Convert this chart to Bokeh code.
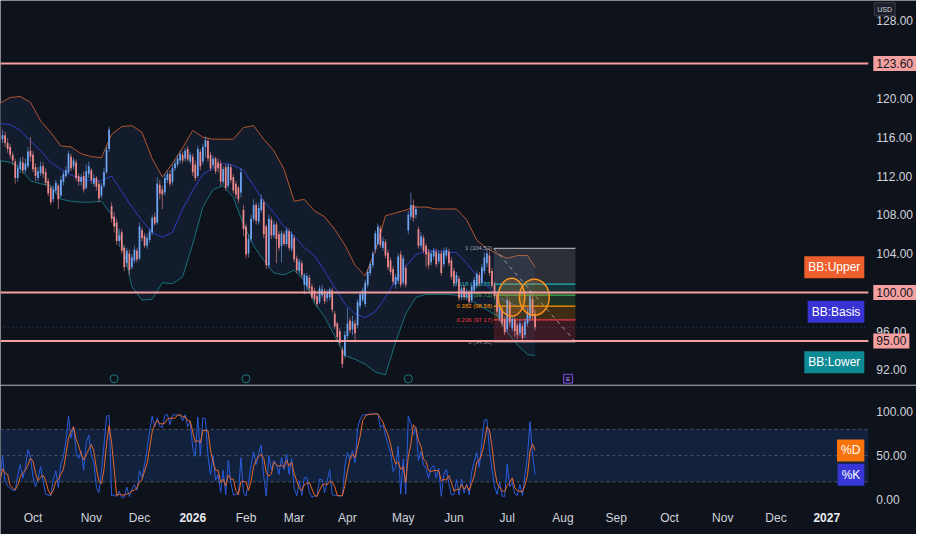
from bokeh.plotting import figure
from bokeh.models import ColumnDataSource, Range1d, Label
from bokeh.layouts import column
from bokeh.embed import file_html
from bokeh.resources import INLINE
from bokeh.core.properties import value

# ---------------- data (daily candles, index = trading day) ----------------
opens = [
    116.5, 115.8, 116.2, 115.4, 115.0, 114.2, 113.5, 111.8, 112.7, 113.4,
    112.6, 113.0, 114.6, 114.2, 112.9, 111.8, 112.3, 113.0, 112.4, 111.5,
    110.8, 109.6, 110.5, 111.0, 110.0, 111.4, 112.0, 112.4, 114.0, 113.0,
    113.4, 112.0, 111.4, 112.0, 110.8, 112.2, 112.6, 111.2, 111.8, 111.2,
    110.0, 111.0, 112.4, 114.8, 108.9, 107.8, 107.2, 105.3, 106.2, 104.6,
    103.0, 104.0, 102.6, 103.3, 104.3, 103.5, 106.4, 105.8, 104.8, 105.4,
    106.2, 107.8, 107.2, 111.1, 110.6, 110.3, 111.6, 112.2, 111.4, 112.8,
    113.2, 113.6, 114.2, 113.8, 114.8, 113.5, 114.0, 113.2, 112.0, 114.5,
    113.5, 115.0, 115.6, 114.2, 113.1, 113.8, 113.4, 113.3, 111.4, 112.9,
    111.0, 112.9, 111.9, 111.2, 110.8, 110.3, 108.5, 106.8, 104.0, 105.5,
    107.6, 109.0, 107.3, 108.5, 109.3, 106.8, 102.8, 107.5, 105.9, 107.0,
    106.0, 104.8, 106.0, 105.0, 106.3, 104.5, 105.6, 103.5, 102.2, 103.0,
    100.8, 100.6, 101.5, 100.6, 100.2, 99.6, 99.0, 99.7, 100.1, 99.4,
    99.5, 100.2, 97.8, 96.8, 96.0, 94.1, 93.5, 95.5, 97.1, 96.2,
    96.8, 96.6, 98.6, 99.2, 98.8, 100.8, 102.0, 102.8, 104.4, 105.0,
    106.6, 104.6, 105.2, 104.1, 103.3, 102.4, 100.8, 101.2, 103.9, 101.0,
    102.5, 106.4, 107.8, 109.0, 108.0, 106.5, 104.8, 105.6, 104.8, 104.2,
    103.1, 103.7, 104.2, 103.2, 104.0, 102.9, 103.8, 104.2, 103.3, 102.2,
    101.0, 101.4, 99.5, 100.5, 99.5, 100.0, 99.2, 100.2, 100.7, 101.8,
    101.0, 102.2, 103.0, 103.8, 102.2, 100.8, 99.8, 97.3, 98.2, 97.2,
    96.2, 99.0, 96.3, 97.2, 96.6, 95.8, 96.5, 95.6, 96.8, 97.3,
    99.3, 97.8,
]
closes = [
    115.8, 116.2, 115.4, 114.8, 114.2, 113.6, 111.8, 112.8, 113.5, 112.6,
    113.3, 114.5, 114.0, 112.7, 112.0, 112.5, 113.0, 112.2, 111.3, 110.2,
    109.3, 110.6, 111.3, 109.6, 111.6, 112.2, 112.6, 114.3, 112.8, 113.6,
    111.8, 111.4, 111.9, 110.6, 112.5, 113.0, 111.6, 111.8, 110.9, 109.7,
    111.0, 112.4, 114.7, 116.8, 107.6, 106.8, 105.3, 105.9, 104.3, 102.6,
    104.3, 102.3, 103.6, 104.4, 103.4, 106.8, 105.6, 104.8, 105.6, 106.3,
    107.7, 107.1, 111.2, 110.2, 110.1, 111.8, 112.2, 111.2, 112.8, 113.3,
    113.8, 114.3, 113.6, 114.6, 113.7, 114.2, 112.4, 111.8, 114.8, 113.0,
    115.0, 115.7, 113.8, 112.8, 113.8, 112.5, 112.8, 111.4, 112.7, 110.8,
    113.0, 111.6, 110.5, 110.1, 109.6, 112.4, 106.5, 103.9, 105.5, 107.6,
    109.0, 107.4, 108.7, 109.6, 106.0, 102.8, 107.6, 105.9, 107.0, 105.5,
    104.6, 106.1, 105.0, 106.4, 104.6, 106.0, 103.4, 102.3, 103.2, 101.8,
    101.8, 101.7, 100.4, 99.5, 99.3, 98.8, 100.4, 100.3, 99.1, 100.0,
    100.3, 98.2, 96.5, 95.4, 94.8, 92.6, 95.6, 96.8, 96.1, 97.0,
    95.8, 99.0, 99.8, 100.2, 101.0, 102.1, 102.9, 104.0, 106.1, 106.8,
    104.9, 105.3, 103.8, 102.6, 102.1, 101.1, 101.6, 103.7, 100.8, 103.5,
    100.8, 108.0, 109.0, 107.7, 108.6, 104.8, 105.8, 104.3, 103.9, 102.8,
    104.0, 104.3, 102.9, 104.0, 102.0, 104.2, 104.4, 103.0, 101.6, 100.9,
    101.8, 99.4, 100.4, 99.5, 100.1, 99.0, 100.6, 101.3, 101.9, 100.9,
    102.6, 103.6, 104.0, 102.0, 100.7, 99.6, 98.0, 98.5, 96.8, 95.9,
    99.2, 96.9, 97.3, 96.0, 95.6, 96.8, 95.3, 97.0, 98.0, 99.6,
    97.6, 96.4,
]
highs = [
    117.0, 116.8, 116.6, 115.9, 115.3, 114.5, 113.8, 113.2, 113.9, 114.0,
    113.8, 115.0, 116.0, 114.6, 113.3, 112.9, 113.5, 113.4, 112.8, 111.8,
    111.0, 111.0, 111.6, 111.2, 112.0, 112.5, 113.0, 114.6, 114.3, 113.9,
    113.7, 112.3, 112.2, 112.5, 113.2, 113.5, 112.8, 112.2, 112.0, 111.5,
    111.3, 112.8, 115.0, 117.1, 109.3, 108.3, 107.6, 106.6, 106.5, 104.9,
    104.6, 104.4, 103.9, 104.8, 104.6, 107.2, 106.7, 106.1, 106.0, 106.6,
    108.0, 108.2, 111.9, 111.6, 111.0, 112.2, 112.5, 112.6, 113.2, 113.6,
    114.2, 114.6, 114.5, 114.9, 115.1, 114.5, 114.3, 113.6, 115.1, 114.8,
    115.3, 116.1, 115.9, 114.5, 114.1, 114.0, 113.8, 113.6, 113.0, 113.2,
    113.3, 113.2, 112.2, 111.5, 111.0, 112.8, 109.0, 107.1, 106.0, 108.0,
    109.6, 109.3, 109.2, 110.1, 109.6, 107.0, 108.0, 107.8, 107.4, 107.3,
    106.3, 106.4, 106.3, 106.7, 106.6, 106.3, 105.9, 103.8, 103.5, 103.3,
    102.0, 102.0, 101.8, 100.9, 100.5, 99.9, 100.7, 100.8, 100.4, 100.3,
    100.5, 100.5, 98.1, 97.0, 96.3, 94.4, 96.0, 98.4, 97.4, 97.6,
    97.2, 99.3, 100.1, 100.5, 101.3, 102.4, 103.2, 104.3, 106.4, 107.1,
    106.9, 105.7, 105.5, 104.4, 103.6, 102.7, 101.9, 104.0, 104.3, 103.8,
    102.8, 108.4, 110.3, 109.6, 108.9, 106.8, 106.2, 105.9, 105.1, 104.5,
    104.3, 104.6, 104.5, 104.3, 104.3, 104.6, 104.7, 104.5, 103.6, 102.5,
    102.1, 101.7, 100.7, 100.8, 100.4, 100.3, 100.9, 101.6, 102.2, 102.1,
    102.9, 104.1, 104.53, 104.2, 102.5, 101.1, 100.1, 98.8, 98.5, 97.5,
    99.6, 99.3, 97.6, 97.5, 96.9, 97.2, 96.8, 97.3, 98.3, 100.2,
    99.8, 98.2,
]
lows = [
    115.5, 115.4, 115.0, 114.4, 113.8, 113.2, 111.2, 111.4, 112.3, 112.2,
    112.3, 112.8, 113.5, 112.4, 111.5, 111.5, 112.0, 111.8, 111.0, 109.9,
    109.0, 109.3, 110.2, 108.6, 109.8, 111.0, 111.8, 112.2, 112.5, 112.7,
    111.5, 111.0, 111.0, 110.3, 110.6, 111.8, 111.2, 110.9, 110.5, 109.3,
    109.7, 110.8, 112.2, 114.5, 107.2, 106.2, 104.9, 104.7, 104.0, 102.2,
    102.6, 101.8, 102.4, 103.0, 103.1, 103.3, 105.3, 104.6, 104.5, 105.1,
    105.9, 106.9, 107.0, 109.6, 108.6, 110.0, 111.3, 110.9, 111.1, 112.5,
    112.9, 113.3, 113.3, 113.5, 113.5, 113.2, 112.0, 111.5, 111.8, 112.6,
    113.2, 113.9, 113.5, 112.5, 112.8, 112.2, 112.4, 111.0, 111.1, 110.5,
    110.7, 111.3, 110.2, 109.7, 109.2, 109.8, 105.8, 103.5, 103.6, 105.2,
    107.3, 107.0, 107.0, 108.2, 105.6, 102.4, 102.5, 105.5, 105.6, 103.0,
    104.3, 103.1, 104.8, 104.8, 104.3, 104.2, 103.1, 102.0, 101.9, 101.5,
    99.8, 100.2, 100.1, 99.3, 99.0, 98.5, 98.8, 99.4, 98.8, 99.0,
    99.2, 97.9, 96.2, 95.1, 94.5, 92.2, 93.2, 95.2, 95.8, 95.6,
    95.0, 96.3, 98.3, 99.0, 98.5, 100.5, 101.7, 102.5, 104.1, 104.8,
    104.6, 104.3, 103.5, 102.3, 101.8, 100.8, 100.4, 100.9, 100.5, 100.7,
    100.5, 106.0, 107.5, 107.3, 107.6, 104.5, 104.5, 104.0, 102.6, 102.4,
    102.8, 103.4, 102.6, 102.9, 101.7, 102.6, 103.5, 102.7, 101.3, 100.6,
    100.7, 99.1, 99.2, 99.2, 99.2, 98.7, 98.9, 99.9, 100.4, 100.6,
    100.7, 101.9, 102.6, 101.7, 100.4, 99.3, 97.6, 97.0, 96.5, 95.6,
    95.9, 96.5, 96.0, 95.4, 95.2, 95.5, 94.9, 95.3, 96.5, 97.0,
    97.2, 96.1,
]

# Bollinger bands at every 4th candle
bb_x = [0, 4, 8, 12, 16, 20, 24, 28, 32, 36, 40, 44, 48, 52, 56, 60, 64, 68,
        72, 76, 80, 84, 88, 92, 96, 100, 104, 108, 112, 116, 120, 124, 128,
        132, 136, 140, 144, 148, 152, 156, 160, 164, 168, 172, 176, 180, 184,
        188, 192, 196, 200, 204, 208, 211]
bb_upper = [119.5, 120.1, 120.2, 119.6, 117.7, 116.5, 115.1, 115.0, 114.3,
            114.0, 113.9, 116.3, 117.1, 117.2, 116.5, 113.8, 111.9, 113.3,
            114.9, 116.7, 116.0, 115.8, 115.8, 115.8, 117.0, 117.2, 115.8,
            114.6, 112.7, 109.4, 109.6, 108.4, 107.8, 106.5, 104.9, 102.8,
            101.7, 104.3, 107.9, 108.2, 108.5, 108.8, 108.8, 108.6, 108.6,
            108.6, 107.5, 105.4, 104.5, 104.0, 103.5, 103.8, 103.8, 102.6]
bb_basis = [117.4, 117.3, 116.7, 115.6, 114.6, 113.4, 112.7, 112.1, 111.7,
            111.5, 111.5, 112.0, 110.4, 108.8, 107.4, 106.2, 105.7, 106.2,
            108.6, 110.5, 112.2, 112.8, 113.3, 113.1, 112.6, 111.0, 109.4,
            108.2, 106.8, 105.8, 104.6, 103.8, 102.2, 100.5, 98.8, 97.8,
            97.4, 98.0, 99.5, 101.2, 102.7, 103.9, 104.3, 104.3, 104.2,
            104.1, 103.0, 101.7, 100.7, 99.6, 99.0, 98.6, 98.3, 98.0]
bb_lower = [113.6, 113.4, 112.8, 111.5, 111.2, 111.0, 109.6, 109.4, 109.3,
            109.3, 109.4, 108.0, 105.3, 100.6, 99.2, 99.3, 101.0, 100.9,
            101.6, 105.0, 108.8, 110.6, 111.0, 109.8, 107.0, 104.8, 103.3,
            102.0, 101.8, 102.3, 101.2, 98.9, 97.5, 95.5, 93.5, 93.1, 92.6,
            91.8, 91.5, 94.9, 97.8, 99.5, 99.8, 99.8, 99.8, 99.7, 99.5,
            98.8, 98.2, 97.6, 95.9, 94.6, 93.6, 93.5]

# horizontal levels drawn by the author
hlines = [123.6, 100.0, 95.0]

# Fibonacci retracement
fib_levels = [0.0, 0.236, 0.382, 0.5, 0.618, 1.0]
FIB_LOW, FIB_HIGH = 94.90, 104.53
FIB_START, FIB_END = 194.7, 226.9

# highlighted circles (centre in candle index / price)
circle_x = [201.7, 210.7]
circle_y = [99.5, 99.5]

# earnings markers (candle index)
earn_past = [45, 97, 161]
earn_next = [224]

# time axis / price scales
month_ticks = [13, 36, 55, 76, 97, 116, 137, 159, 179, 200, 222, 243, 264, 285, 306, 326]
month_labels = ["Oct", "Nov", "Dec", "2026", "Feb", "Mar", "Apr", "May", "Jun",
                "Jul", "Aug", "Sep", "Oct", "Nov", "Dec", "2027"]
price_ticks = [92, 96, 104, 108, 112, 116, 120, 128]
stoch_ticks = [0, 50, 100]

# ---------------- styling / geometry ----------------
BG = "#0e121a"
UP = "#6ea6f5"
DN = "#f08a8c"
PINK = "#f5a0a0"
AXIS_TXT = "#d1d4dc"
FONT = "Liberation Sans"
X0, X1 = 0.19, 361.4       # visible index range (frame spans the whole width)
X_END = 342.4              # right edge of the candle area (price scale to the right)
W = 916
MONTH_Y = -21.0            # stochastic-pane value at which the time labels sit

n = len(closes)
idx = list(range(n))
cols = [UP if c >= o else DN for o, c in zip(opens, closes)]
src = ColumnDataSource(dict(
    x=idx, high=highs, low=lows,
    top=[max(o, c) for o, c in zip(opens, closes)],
    bottom=[min(o, c) for o, c in zip(opens, closes)],
    color=cols))

xr = Range1d(X0, X1)

# ---------------- price pane ----------------
p1 = figure(width=W, height=385, x_range=xr, y_range=Range1d(90.4, 130.1),
            output_backend="svg", toolbar_location=None,
            x_axis_location=None, y_axis_location=None,
            background_fill_color=BG, border_fill_color=BG,
            outline_line_color=None, min_border=0)
p1.grid.visible = False

# Bollinger band fill and lines
p1.varea(x=bb_x, y1=bb_lower, y2=bb_upper, fill_color="#121c2c", fill_alpha=1.0)
p1.line(bb_x, bb_upper, line_color="#b4552f", line_width=1)
p1.line(bb_x, bb_basis, line_color="#2f3ec2", line_width=1)
p1.line(bb_x, bb_lower, line_color="#17717a", line_width=1)

# last price dotted line
p1.segment(x0=X0, x1=X_END, y0=closes[-1], y1=closes[-1], line_color="#2b4a80",
           line_width=1, line_dash="1 3")

# Fibonacci box
fib_colors = ["#8a8e99", "#f23645", "#ff9800", "#4caf50", "#22b2b5", "#a3a6af"]
fib_prices = [FIB_LOW + lv * (FIB_HIGH - FIB_LOW) for lv in fib_levels]
p1.quad(left=FIB_START, right=FIB_END, bottom=fib_prices[:-1], top=fib_prices[1:],
        fill_color=fib_colors[1:], fill_alpha=0.2, line_color=None)
p1.segment(x0=FIB_START, x1=FIB_END, y0=fib_prices, y1=fib_prices,
           line_color=fib_colors, line_width=1.2)
p1.text(x=FIB_START - 0.6, y=fib_prices,
        text=[f"{lv:g} ({pr:.2f})" for lv, pr in zip(fib_levels, fib_prices)],
        text_align="right", text_baseline="middle", text_font_size="6px",
        text_color=fib_colors, text_font=value(FONT))

# candles
p1.segment(x0="x", x1="x", y0="low", y1="high", line_color="color",
           line_alpha=0.6, line_width=1, source=src)
p1.vbar(x="x", top="top", bottom="bottom", width=0.68, fill_color="color",
        line_color=None, source=src)

# dashed projection across the fib box
p1.line([FIB_START, FIB_END], [FIB_HIGH, FIB_LOW], line_color="#b2b5be",
        line_dash="4 4", line_width=1, line_alpha=0.8)

# highlighted circles
p1.ellipse(x=circle_x, y=circle_y, width=[10.5, 11.8], height=[3.9, 3.7],
           fill_color="#f7931e", fill_alpha=0.22, line_color="#f7931e", line_width=1.5)

# horizontal levels
p1.segment(x0=X0, x1=X_END, y0=hlines, y1=hlines, line_color=PINK, line_width=2)

# price scale
p1.text(x=X_END, y=price_ticks, text=[f"{t:.2f}" for t in price_ticks], x_offset=8,
        text_align="left", text_baseline="middle", text_font_size="12px",
        text_color=AXIS_TXT, text_font=value(FONT))
for lv in hlines:
    p1.add_layout(Label(x=X_END, y=lv, x_offset=5, text=f"{lv:.2f}",
                        text_font=FONT, text_font_size="12px", text_color="#131722",
                        text_align="left", text_baseline="middle",
                        background_fill_color=PINK, padding=3))

# earnings markers
p1.scatter(x=earn_past, y=[91.1] * len(earn_past), marker="circle", size=8,
           fill_color=BG, line_color="#1d7b83", line_width=1)
p1.scatter(x=earn_next, y=[91.1] * len(earn_next), marker="square", size=9,
           fill_color="#1a1530", line_color="#7b52d3", line_width=1)
p1.text(x=earn_next, y=[91.1] * len(earn_next), text=["E"] * len(earn_next),
        text_align="center", text_baseline="middle", text_font_size="6px",
        text_color="#b89cff", text_font=value(FONT))

# BB value tags
for val, txt, colr in [(bb_upper[-1], "BB:Upper", "#ef5f2e"),
                       (bb_basis[-1], "BB:Basis", "#3833d2"),
                       (bb_lower[-1] - 0.7, "BB:Lower", "#0e8a94")]:
    p1.add_layout(Label(x=X_END, y=val, x_offset=-4, text=txt,
                        text_font=FONT, text_font_size="12px", text_color="#ffffff",
                        text_align="right", text_baseline="middle",
                        background_fill_color=colr, padding=4))

p1.add_layout(Label(x=X_END, y=129.2, x_offset=6, text="USD", text_font=FONT,
                    text_font_size="7px", text_color=AXIS_TXT, text_align="left",
                    text_baseline="middle", background_fill_color="#1b1f29",
                    border_line_color="#3a3e4a", padding=3))
p1.segment(x0=X0, x1=X1, y0=90.45, y1=90.45, line_color="#6a6e79", line_width=1)

# ---------------- stochastic pane ----------------
k_vals = []
for i in range(n):
    lo = min(lows[max(0, i - 13):i + 1])
    hi = max(highs[max(0, i - 13):i + 1])
    k_vals.append(100.0 * (closes[i] - lo) / (hi - lo) if hi > lo else 50.0)
d_vals = []
for i in range(n):
    w = k_vals[max(0, i - 2):i + 1]
    d_vals.append(sum(w) / len(w))

p2 = figure(width=W, height=149, x_range=xr, y_range=Range1d(-40, 130),
            output_backend="svg", toolbar_location=None,
            x_axis_location=None, y_axis_location=None,
            background_fill_color=BG, border_fill_color=BG,
            outline_line_color=None, min_border=0)
p2.grid.visible = False

p2.quad(left=X0, right=X_END, bottom=20, top=80, fill_color="#12223c", line_color=None)
p2.segment(x0=X0, x1=X_END, y0=[80, 50, 20], y1=[80, 50, 20], line_color="#4d5466",
           line_width=1, line_dash="3 3")

p2.line(idx, k_vals, line_color="#2b5cdc", line_width=1)
p2.line(idx, d_vals, line_color="#e8692c", line_width=1)

p2.text(x=X_END, y=stoch_ticks, text=[f"{t:.2f}" for t in stoch_ticks], x_offset=8,
        text_align="left", text_baseline="middle", text_font_size="12px",
        text_color=AXIS_TXT, text_font=value(FONT))

# time labels (years in bold)
m_x = [t for t, l in zip(month_ticks, month_labels) if not l.isdigit()]
m_l = [l for l in month_labels if not l.isdigit()]
y_x = [t for t, l in zip(month_ticks, month_labels) if l.isdigit()]
y_l = [l for l in month_labels if l.isdigit()]
p2.text(x=m_x, y=[MONTH_Y] * len(m_x), text=m_l, text_align="center",
        text_baseline="middle", text_font_size="12px", text_color=AXIS_TXT,
        text_font=value(FONT))
p2.text(x=y_x, y=[MONTH_Y] * len(y_x), text=y_l, text_align="center",
        text_baseline="middle", text_font_size="12px", text_color="#e8eaf0",
        text_font=value(FONT), text_font_style="bold")

p2.add_layout(Label(x=X_END, y=d_vals[-1], x_offset=-4, text="%D", text_font=FONT,
                    text_font_size="12px", text_color="#ffffff", text_align="right",
                    text_baseline="middle", background_fill_color="#f7730c", padding=4))
p2.add_layout(Label(x=X_END, y=k_vals[-1], x_offset=-4, text="%K", text_font=FONT,
                    text_font_size="12px", text_color="#ffffff", text_align="right",
                    text_baseline="middle", background_fill_color="#3737d6", padding=4))

layout = column(p1, p2, spacing=0)
open("out.html", "w").write(file_html(layout, INLINE))
